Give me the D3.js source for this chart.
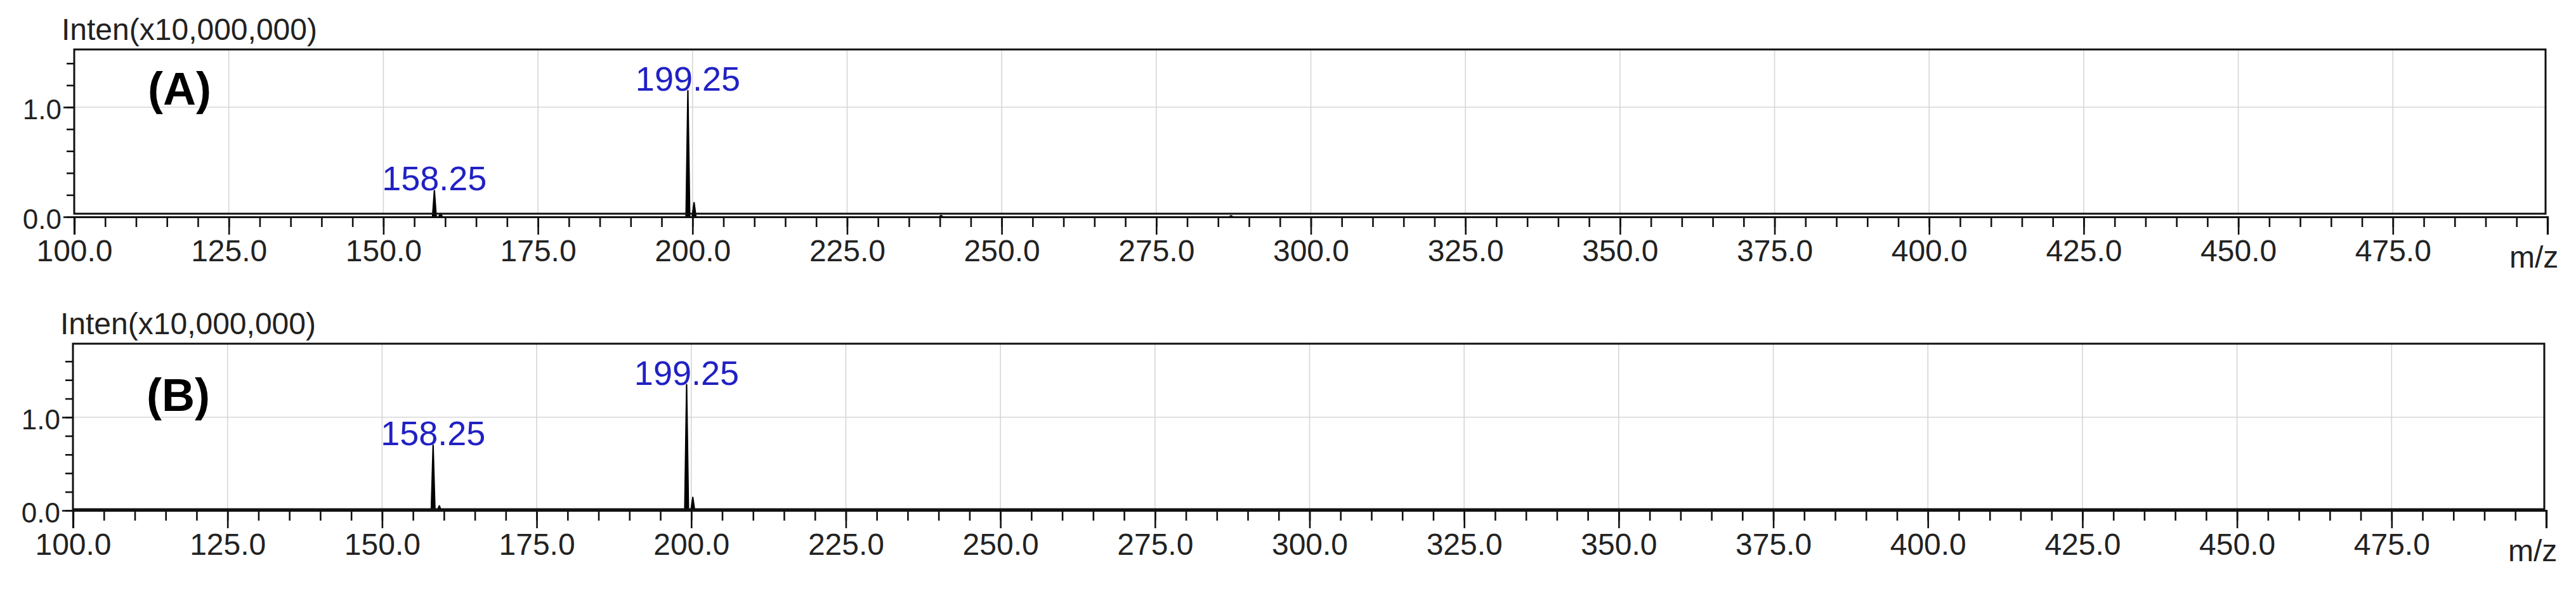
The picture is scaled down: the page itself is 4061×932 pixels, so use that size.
<!DOCTYPE html>
<html>
<head>
<meta charset="utf-8">
<script src="https://cdn.jsdelivr.net/npm/d3@7"></script>
<style>
body { margin: 0; background: #fff; }
text { font-family: "Liberation Sans", Arial, sans-serif; }
</style>
</head>
<body>
<svg width="4061" height="932"></svg>
<script>
// m/z axis and intensity ticks (x10,000,000)
var mzTicksMajor = [100, 125, 150, 175, 200, 225, 250, 275, 300, 325, 350, 375, 400, 425, 450, 475, 500];
var intenTicksMajor = [0.0, 1.0];

// spectrum (A): peak m/z and intensity
var peaksMzA = [158.25, 159.25, 199.25, 200.25, 240.2, 287.1];
var peaksIntA = [0.24, 0.03, 1.15, 0.13, 0.012, 0.01];
var labelsA = ["158.25", "199.25"];

// spectrum (B)
var peaksMzB = [158.25, 159.25, 199.25, 200.25, 287.1];
var peaksIntB = [0.70, 0.05, 1.35, 0.14, 0.01];
var labelsB = ["158.25", "199.25"];

var svg = d3.select("svg");
svg.append("rect").attr("width", 4061).attr("height", 932).attr("fill", "#fff");

function draw_panel(opt){
	var x = d3.scaleLinear().domain([100, 500]).range([opt.left, opt.right]);
	var y = d3.scaleLinear().domain([0, 1]).range([opt.axisY, opt.axisY - opt.unit]);
	var yTop = y.invert(opt.top);
	var g = svg.append("g");

	// grid
	g.selectAll(".vgrid")
		.data(mzTicksMajor.filter(function(d){ return d > 100 && d < 500; }))
		.enter().append("line")
		.attr("x1", function(d){ return x(d); })
		.attr("x2", function(d){ return x(d); })
		.attr("y1", opt.top)
		.attr("y2", opt.frameBottom)
		.attr("stroke", "#d6d6d6")
		.attr("stroke-width", 1.6);
	g.append("line")
		.attr("x1", opt.left).attr("x2", opt.right - 3)
		.attr("y1", y(1)).attr("y2", y(1))
		.attr("stroke", "#d6d6d6")
		.attr("stroke-width", 1.6);

	// spectrum peaks
	var pk = opt.mz.map(function(d, i){ return {mz: d, v: opt.inten[i]}; });
	g.selectAll(".peak")
		.data(pk)
		.enter().append("path")
		.attr("d", function(d){
			return "M" + x(d.mz - 0.3) + "," + y(0)
				+ "L" + x(d.mz) + "," + y(d.v)
				+ "L" + x(d.mz + 0.3) + "," + y(0) + "Z";
		})
		.attr("fill", "#000")
		.attr("stroke", "#000")
		.attr("stroke-width", 2.2)
		.attr("stroke-linejoin", "round");

	// frame
	g.append("rect")
		.attr("x", opt.left)
		.attr("y", opt.top)
		.attr("width", opt.right - 3 - opt.left)
		.attr("height", opt.frameBottom - opt.top)
		.attr("fill", "none")
		.attr("stroke", "#111")
		.attr("stroke-width", 3);

	// x axis
	var xMinor = d3.axisBottom(x).tickValues(d3.range(100, 501, 5)).tickSize(16).tickFormat("");
	var xMajor = d3.axisBottom(x).tickValues(mzTicksMajor).tickSize(28).tickPadding(8)
		.tickFormat(function(d){ return d == 500 ? "" : d3.format(".1f")(d); });
	var xa1 = g.append("g").attr("transform", "translate(0," + opt.axisY + ")").call(xMinor);
	var xa2 = g.append("g").attr("transform", "translate(0," + opt.axisY + ")").call(xMajor);
	[xa1, xa2].forEach(function(a){
		a.select(".domain").attr("stroke", "#111").attr("stroke-width", 3.2);
		a.selectAll(".tick line").attr("stroke", "#111").attr("stroke-width", 2.6);
	});
	xa2.selectAll(".tick text").attr("font-size", 48).attr("fill", "#222");

	g.append("text")
		.attr("x", opt.right - 60)
		.attr("y", opt.axisY + 80)
		.attr("font-size", 48)
		.attr("fill", "#222")
		.text("m/z");

	// y axis
	var yMinor = d3.axisLeft(y).tickValues(d3.range(0, yTop, 0.2)).tickSize(12).tickFormat("");
	var yMajor = d3.axisLeft(y).tickValues(intenTicksMajor).tickSize(17).tickPadding(3)
		.tickFormat(d3.format(".1f"));
	var ya1 = g.append("g").attr("transform", "translate(" + opt.left + ",0)").call(yMinor);
	var ya2 = g.append("g").attr("transform", "translate(" + opt.left + ",0)").call(yMajor);
	[ya1, ya2].forEach(function(a){
		a.select(".domain").remove();
		a.selectAll(".tick line").attr("stroke", "#111").attr("stroke-width", 2.6);
	});
	ya2.selectAll(".tick text").attr("font-size", 44).attr("fill", "#222").attr("dy", "0.43em");

	g.append("text")
		.attr("x", opt.left - 20)
		.attr("y", opt.top - 15)
		.attr("font-size", 48)
		.attr("fill", "#222")
		.text("Inten(x10,000,000)");

	g.append("text")
		.attr("x", opt.left + 116)
		.attr("y", opt.top + opt.tagDy)
		.attr("font-size", 72)
		.attr("font-weight", "bold")
		.attr("fill", "#000")
		.text(opt.tag);

	// peak labels
	g.selectAll(".plabel")
		.data(opt.labels)
		.enter().append("text")
		.attr("x", function(d){ return x(+d); })
		.attr("y", function(d){ return y(opt.inten[opt.mz.indexOf(+d)]); })
		.attr("text-anchor", "middle")
		.attr("font-size", 54)
		.attr("fill", "#2121c4")
		.text(function(d){ return d; });
}

draw_panel({left: 117, right: 4016, top: 78, axisY: 342, frameBottom: 337, unit: 173,
	mz: peaksMzA, inten: peaksIntA, labels: labelsA, tag: "(A)", tagDy: 87});
draw_panel({left: 115, right: 4014, top: 542, axisY: 805, frameBottom: 803, unit: 147,
	mz: peaksMzB, inten: peaksIntB, labels: labelsB, tag: "(B)", tagDy: 106});
</script>
</body>
</html>
